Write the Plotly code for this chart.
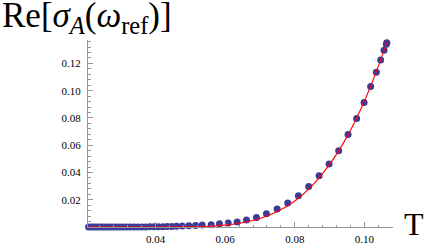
import plotly.graph_objects as go

# Data points (T, Re[sigma_A(omega_ref)])
T_points = [0.02077, 0.02149, 0.02221, 0.02296, 0.02373, 0.02451, 0.02531, 0.02614,
            0.02700, 0.02789, 0.02881, 0.02976, 0.03073, 0.03174, 0.03277, 0.03383,
            0.03492, 0.03604, 0.03719, 0.03836, 0.03957, 0.04080, 0.04207, 0.04336,
            0.04468, 0.04603, 0.04766, 0.04956, 0.05148, 0.05340, 0.05598, 0.05836,
            0.06086, 0.06344, 0.06611, 0.06898, 0.07185, 0.07492, 0.07796, 0.08103,
            0.08399, 0.08697, 0.08984, 0.09260, 0.09529, 0.09776, 0.09989, 0.10178,
            0.10341, 0.10465, 0.10562, 0.10628, 0.10643]
sigma_points = [0.0, 0.0, 0.0, 0.0, 0.0, 0.0, 0.0, 0.0,
                0.0, 0.0, 0.0, 0.0, 0.0, 0.00001, 0.00002, 0.00003,
                0.00004, 0.00006, 0.00008, 0.00011, 0.00015, 0.00019, 0.00025, 0.00032,
                0.00040, 0.00050, 0.00065, 0.00085, 0.00110, 0.00140, 0.00170, 0.00240,
                0.00290, 0.00370, 0.00510, 0.00700, 0.00970, 0.01320, 0.01760, 0.02290,
                0.02970, 0.03760, 0.04620, 0.05590, 0.06780, 0.07960, 0.09130, 0.10300,
                0.11360, 0.12260, 0.12970, 0.13410, 0.13520]

# Fitted curve (red)
T_fit = [0.0206, 0.025, 0.030, 0.035, 0.040, 0.045, 0.050, 0.055, 0.060, 0.065,
         0.070, 0.075, 0.080, 0.085, 0.090, 0.095, 0.100, 0.1034, 0.1065]
sigma_fit = [0.0, 0.0, 0.0, 0.0, 0.00001, 0.00004, 0.00017, 0.00054, 0.0014, 0.0031,
             0.0062, 0.0113, 0.0191, 0.0304, 0.0459, 0.0663, 0.0925, 0.1139, 0.1360]

x_ticks = [0.04, 0.06, 0.08, 0.10]
y_ticks = [0.02, 0.04, 0.06, 0.08, 0.10, 0.12]

W, H = 425, 245
L, R, Tm, B = 88, 393, 40, 227  # plot area in pixels

fig = go.Figure()
fig.add_trace(go.Scatter(
    x=T_points, y=sigma_points, mode="markers",
    marker=dict(size=7, color="rgb(60,60,152)", line=dict(width=0)),
    cliponaxis=False, showlegend=False))
fig.add_trace(go.Scatter(
    x=T_fit, y=sigma_fit, mode="lines", line=dict(color="rgb(255,0,0)", width=1.1, shape="spline"),
    cliponaxis=False, showlegend=False))

axis_color = "rgb(150,150,150)"
tickfont = dict(family="Liberation Serif", size=11, color="black")

fig.update_xaxes(
    range=[0.0206, 0.1082], showgrid=False, zeroline=False, automargin=False,
    showline=True, linecolor=axis_color, linewidth=1,
    tickvals=x_ticks, ticktext=[f"{v:.2f}" for v in x_ticks],
    ticks="inside", ticklen=5, tickcolor=axis_color, tickwidth=1,
    minor=dict(dtick=0.004, tick0=0.0, ticks="inside", ticklen=2.5, tickcolor=axis_color, tickwidth=1),
    tickfont=tickfont, ticklabelstandoff=2)
fig.update_yaxes(
    range=[0, 0.1372], showgrid=False, zeroline=False, automargin=False,
    showline=True, linecolor=axis_color, linewidth=1,
    tickvals=y_ticks, ticktext=[f"{v:.2f}" for v in y_ticks],
    ticks="inside", ticklen=5, tickcolor=axis_color, tickwidth=1,
    minor=dict(dtick=0.004, tick0=0.0, ticks="inside", ticklen=2.5, tickcolor=axis_color, tickwidth=1),
    tickfont=tickfont, ticklabelstandoff=4)

pw, ph = R - L, B - Tm
def px(x):
    return (x - L) / pw
def py(y):
    return (B - y) / ph

fig.add_annotation(
    x=px(0), y=py(18), xref="paper", yref="paper", xanchor="left", yanchor="middle",
    text="Re[<i>σ</i><sub><i>A</i></sub>(<i>ω</i><sub>ref</sub>)]", showarrow=False,
    font=dict(family="Liberation Serif", size=35, color="black"))
fig.add_annotation(
    x=px(414), y=py(224), xref="paper", yref="paper", xanchor="center", yanchor="middle",
    text="T", showarrow=False,
    font=dict(family="Liberation Serif", size=32, color="black"))

fig.update_layout(
    width=W, height=H,
    margin=dict(l=L, r=W - R, t=Tm, b=H - B, pad=0, autoexpand=False),
    paper_bgcolor="white", plot_bgcolor="white")

fig.write_html("out.html", config={"displayModeBar": False},
               post_script="document.body.style.margin='0';document.body.style.padding='0';")
